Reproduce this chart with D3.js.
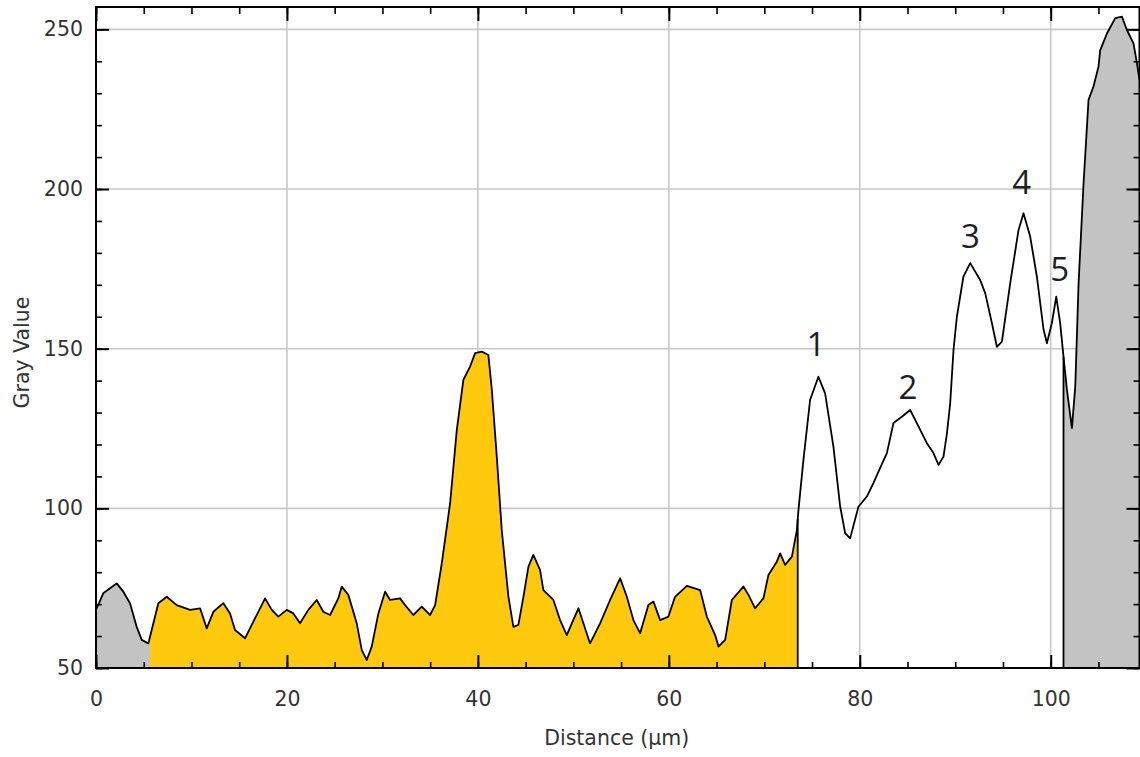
<!DOCTYPE html>
<html><head><meta charset="utf-8">
<script src="https://cdn.jsdelivr.net/npm/d3@7"></script>
<style>html,body{margin:0;padding:0;background:#fff;}svg{display:block;}</style>
</head><body><svg id="c" width="1140" height="757"></svg>
<script>
// ---- data ----
const distance = [0.07,0.76,1.47,2.17,2.86,3.56,4.26,4.79,5.48,5.66,6.53,7.41,8.45,9.85,10.90,11.60,12.29,13.34,14.04,14.56,15.61,16.48,17.71,18.41,19.10,19.98,20.67,21.37,22.24,23.12,23.81,24.52,25.38,25.74,26.43,27.31,27.84,28.36,28.88,29.58,30.28,30.80,31.85,32.37,33.24,34.12,34.99,35.52,36.22,37.09,37.79,38.48,39.18,39.71,40.41,41.10,41.46,41.98,42.50,43.20,43.72,44.24,44.77,45.29,45.81,46.51,46.86,47.91,48.61,49.31,49.84,50.53,51.05,51.75,52.80,53.85,54.90,55.60,56.29,56.99,57.86,58.39,59.09,59.96,60.65,61.89,63.28,63.98,64.85,65.20,65.90,66.60,67.81,68.34,69.04,69.91,70.43,71.31,71.66,72.18,72.89,73.41,73.58,74.10,74.80,75.67,76.37,77.24,77.95,78.47,78.99,79.86,80.74,81.43,81.96,82.84,83.53,84.41,85.28,85.98,87.03,87.72,88.25,88.77,89.13,89.47,89.82,90.17,90.86,91.57,92.61,93.14,93.84,94.36,94.89,95.76,96.63,97.15,97.85,98.55,99.25,99.60,100.12,100.58,100.99,101.34,101.70,102.22,102.57,102.92,103.44,103.61,103.96,104.48,105.01,105.18,105.89,106.76,107.46,107.98,108.67,109.03,109.30];
const grayValue = [68.7,73.4,75.0,76.5,73.9,70.3,62.9,58.8,57.7,59.8,70.3,72.3,69.7,68.2,68.7,62.4,67.6,70.3,67.1,61.9,59.3,64.5,71.8,68.2,66.1,68.2,67.1,64.0,68.2,71.3,67.6,66.6,71.8,75.5,72.9,64.0,55.6,52.5,56.7,67.1,73.9,71.3,71.8,69.7,66.6,69.2,66.6,69.7,82.8,101.6,124.5,140.2,144.4,148.6,149.1,148.0,137.1,116.2,93.2,72.3,62.9,63.5,72.3,81.7,85.4,80.7,74.4,71.3,65.0,60.3,64.0,68.7,64.0,57.7,64.0,71.3,78.1,72.3,65.0,60.9,69.7,70.8,65.0,66.1,72.3,75.7,74.4,66.1,60.3,56.7,58.8,71.3,75.5,72.9,68.7,71.8,79.1,83.3,85.9,82.3,84.9,93.2,99.5,115.2,134.0,141.2,136.0,119.3,100.5,92.2,90.6,100.5,103.7,107.9,111.5,117.3,126.7,128.7,130.8,126.7,120.4,117.3,113.6,116.2,123.5,132.9,149.6,160.0,172.6,176.8,171.5,167.4,158.0,150.6,152.2,170.5,187.2,192.4,185.1,172.6,156.0,151.7,158.0,166.3,158.0,147.5,137.1,125.1,138.1,170.5,201.8,210.2,227.9,232.1,238.4,243.4,248.7,253.5,254.0,249.8,245.6,239.4,234.2];

const regionStart = [0, 5.66, 101.34];
const regionEnd   = [5.66, 73.5, 109.3];
const regionColor = ["#c3c3c3", "#ffc90e", "#c3c3c3"];
const boundaryLines = [73.5, 101.34];

const peakLabels = ["1","2","3","4","5"];
const peakLabelX = [75.4, 85.05, 91.6, 96.95, 100.95];
const peakLabelY = [151.5, 138.0, 185.3, 202.2, 175.0];

const xTicksMajor = [0,20,40,60,80,100];
const yTicksMajor = [50,100,150,200,250];
const xTitle = "Distance (µm)";
const yTitle = "Gray Value";

// ---- layout ----
const svg = d3.select("#c");
const L = 96, R = 1139.5, T = 7, B = 668;
const x = d3.scaleLinear().domain([0, 109.3]).range([L, R]);
const y = d3.scaleLinear().domain([50, 257]).range([B, T]);
const pts = distance.map((d,i)=>({x:d, y:grayValue[i]}));
const valAt = v => {
  const i = d3.bisector(d=>d.x).left(pts, v);
  if (i<=0) return pts[0].y;
  if (i>=pts.length) return pts[pts.length-1].y;
  const a=pts[i-1], b=pts[i];
  return a.y + (b.y-a.y)*(v-a.x)/(b.x-a.x);
};

// grid
const grid = svg.append("g");
grid.selectAll("line.gx").data(xTicksMajor.filter(t=>t>0)).join("line")
  .attr("x1",d=>x(d)).attr("x2",d=>x(d)).attr("y1",T).attr("y2",B)
  .attr("stroke","#c8c8c8").attr("stroke-width",1.6);
grid.selectAll("line.gy").data(yTicksMajor.filter(t=>t>50)).join("line")
  .attr("x1",L).attr("x2",R).attr("y1",d=>y(d)).attr("y2",d=>y(d))
  .attr("stroke","#c8c8c8").attr("stroke-width",1.6);

// fills
const defs = svg.append("defs");
const area = d3.area().x(d=>x(d.x)).y0(y(50)).y1(d=>y(d.y));
regionStart.forEach((s,i)=>{
  defs.append("clipPath").attr("id","clip"+i).append("rect")
    .attr("x",x(s)).attr("y",T).attr("width",x(regionEnd[i])-x(s)).attr("height",B-T);
  svg.append("path").datum(pts).attr("d",area).attr("fill",regionColor[i])
    .attr("clip-path","url(#clip"+i+")");
});

// boundary lines
svg.selectAll("line.bd").data(boundaryLines).join("line")
  .attr("x1",d=>x(d)).attr("x2",d=>x(d)).attr("y1",y(50)).attr("y2",d=>y(valAt(d)))
  .attr("stroke","#000").attr("stroke-width",1.8);

// profile line
svg.append("path").datum(pts)
  .attr("d",d3.line().x(d=>x(d.x)).y(d=>y(d.y)))
  .attr("fill","none").attr("stroke","#000").attr("stroke-width",1.8).attr("stroke-linejoin","round");

// axes
const font = "DejaVu Sans, sans-serif";
function styleAxis(g, major){
  g.select(".domain").remove();
  g.selectAll(".tick line").attr("stroke","#000").attr("stroke-width",major?2:1.6);
  g.selectAll(".tick text").attr("font-family",font).attr("font-size",20.5).attr("fill","#333");
}
const minorX = d3.range(0,110,5), minorY = d3.range(50,257,10);
svg.append("g").attr("transform",`translate(0,${B})`)
  .call(d3.axisBottom(x).tickValues(minorX).tickSize(-6).tickFormat("")).call(g=>styleAxis(g,false));
svg.append("g").attr("transform",`translate(0,${B})`)
  .call(d3.axisBottom(x).tickValues(xTicksMajor).tickSize(-13).tickPadding(23)).call(g=>styleAxis(g,true));
svg.append("g").attr("transform",`translate(0,${T})`)
  .call(d3.axisTop(x).tickValues(minorX).tickSize(-7).tickFormat("")).call(g=>styleAxis(g,false));
svg.append("g").attr("transform",`translate(0,${T})`)
  .call(d3.axisTop(x).tickValues(xTicksMajor).tickSize(-14).tickFormat("")).call(g=>styleAxis(g,true));
svg.append("g").attr("transform",`translate(${L},0)`)
  .call(d3.axisLeft(y).tickValues(minorY).tickSize(-6).tickFormat("")).call(g=>styleAxis(g,false));
svg.append("g").attr("transform",`translate(${L},0)`)
  .call(d3.axisLeft(y).tickValues(yTicksMajor).tickSize(-13).tickPadding(13)).call(g=>styleAxis(g,true));
svg.append("g").attr("transform",`translate(${R},0)`)
  .call(d3.axisRight(y).tickValues(minorY).tickSize(-6).tickFormat("")).call(g=>styleAxis(g,false));
svg.append("g").attr("transform",`translate(${R},0)`)
  .call(d3.axisRight(y).tickValues(yTicksMajor).tickSize(-13).tickFormat("")).call(g=>styleAxis(g,true));

// frame
svg.append("rect").attr("x",L).attr("y",T).attr("width",R-L).attr("height",B-T)
  .attr("fill","none").attr("stroke","#000").attr("stroke-width",2);

// titles
svg.append("text").attr("x",(L+R)/2-1).attr("y",745).attr("text-anchor","middle")
  .attr("font-family",font).attr("font-size",20.5).attr("fill","#333").text(xTitle);
svg.append("text").attr("transform",`translate(29,${(T+B)/2+15}) rotate(-90)`).attr("text-anchor","middle")
  .attr("font-family",font).attr("font-size",20.5).attr("fill","#333").text(yTitle);

// peak labels
svg.selectAll("text.pk").data(peakLabels).join("text")
  .attr("x",(d,i)=>x(peakLabelX[i])).attr("y",(d,i)=>y(peakLabelY[i]))
  .attr("text-anchor","middle").attr("dominant-baseline","central")
  .attr("font-family","Open Sans, sans-serif").attr("font-size",33).attr("fill","#1e1e28").text(d=>d);
</script></body></html>
